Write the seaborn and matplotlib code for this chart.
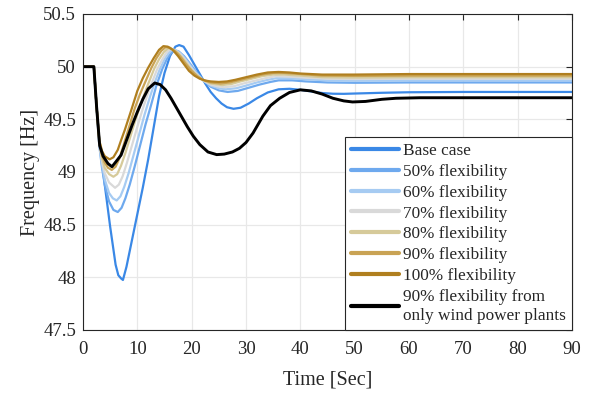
import matplotlib
matplotlib.use("Agg")
import matplotlib.pyplot as plt
import seaborn as sns
import pandas as pd

# Frequency response after the disturbance, one (time, frequency) trace per case
t_base = [0, 2, 2.5, 3, 3.5, 4, 4.5, 5, 5.5, 6, 6.5, 7, 7.35, 8, 9, 10, 11, 12, 13, 14, 15, 16, 17, 17.7,
          18.5, 19.5, 20.5, 21.5, 22.5, 23.5, 24.5, 25.5, 26.5, 27.7, 29, 30.5, 32, 34, 36, 38, 40, 42, 44,
          46, 48, 50, 55, 60, 70, 90]
f_base = [50, 50, 49.62, 49.30, 49.10, 48.88, 48.68, 48.48, 48.30, 48.12, 48.02, 47.99, 47.975, 48.10,
          48.35, 48.60, 48.85, 49.12, 49.42, 49.72, 49.94, 50.10, 50.19, 50.205, 50.19, 50.11, 50.02, 49.93,
          49.84, 49.76, 49.70, 49.65, 49.615, 49.60, 49.61, 49.65, 49.70, 49.755, 49.785, 49.79, 49.78,
          49.765, 49.75, 49.743, 49.742, 49.745, 49.752, 49.757, 49.76, 49.76]

t_50 = [0, 2, 2.5, 3, 3.5, 4, 4.8, 5.6, 6.4, 7.1, 7.8, 8.6, 9.5, 10.5, 11.5, 12.5, 13.5, 14.6, 15.5, 16.2,
        16.8, 17.6, 18.6, 19.6, 20.6, 21.5, 22.1, 23.5, 25, 26.6, 28.5, 30.5, 32.5, 34.5, 36, 38.5, 41, 45,
        50, 60, 90]
f_50 = [50, 50, 49.62, 49.25, 49.04, 48.88, 48.72, 48.64, 48.62, 48.66, 48.75, 48.88, 49.05, 49.25, 49.45,
        49.63, 49.82, 49.98, 50.08, 50.13, 50.15, 50.145, 50.10, 50.035, 49.965, 49.91, 49.875, 49.81,
        49.775, 49.76, 49.77, 49.80, 49.83, 49.855, 49.87, 49.87, 49.86, 49.85, 49.847, 49.85, 49.85]

t_60 = [0, 2, 2.5, 3, 3.5, 4, 4.8, 5.5, 6.2, 6.9, 7.6, 8.4, 9.3, 10.3, 11.3, 12.3, 13.2, 14.1, 15, 15.8,
        16.4, 17.2, 18.2, 19.2, 20.2, 21.2, 22.1, 23.5, 25, 26.3, 28.2, 30, 32, 34, 35.5, 38, 41, 45, 50,
        60, 90]
f_60 = [50, 50, 49.62, 49.26, 49.07, 48.93, 48.80, 48.75, 48.73, 48.77, 48.86, 48.99, 49.16, 49.35, 49.54,
        49.71, 49.85, 49.97, 50.07, 50.13, 50.16, 50.155, 50.115, 50.05, 49.98, 49.92, 49.87, 49.82,
        49.795, 49.785, 49.795, 49.82, 49.85, 49.875, 49.89, 49.89, 49.88, 49.87, 49.867, 49.87, 49.87]

t_70 = [0, 2, 2.5, 3, 3.5, 4, 4.8, 5.9, 6.6, 7.3, 8.1, 9, 10, 11, 12.1, 13.6, 14.5, 15.3, 16, 16.8, 17.8,
        18.8, 19.8, 20.8, 22.1, 23.5, 24.8, 26, 27.8, 29.5, 31.5, 33.5, 35.5, 38, 41, 45, 50, 60, 90]
f_70 = [50, 50, 49.62, 49.27, 49.10, 48.99, 48.90, 48.85, 48.88, 48.96, 49.09, 49.25, 49.43, 49.60, 49.77,
        49.97, 50.06, 50.13, 50.165, 50.16, 50.125, 50.065, 49.995, 49.935, 49.87, 49.83, 49.812, 49.805,
        49.815, 49.84, 49.865, 49.89, 49.91, 49.905, 49.895, 49.885, 49.882, 49.885, 49.885]

t_80 = [0, 2, 2.5, 3, 3.5, 4, 4.8, 5.6, 6.3, 7, 7.8, 8.8, 9.8, 10.8, 11.8, 13.1, 14, 14.9, 15.7, 16.5, 17.5,
        18.5, 19.5, 20.5, 21.3, 22.1, 23.5, 25.6, 27.3, 29, 31, 33, 35, 37, 40, 44, 50, 60, 90]
f_80 = [50, 50, 49.62, 49.28, 49.13, 49.04, 48.98, 48.955, 48.98, 49.06, 49.18, 49.35, 49.52, 49.67, 49.81,
        49.98, 50.07, 50.14, 50.175, 50.165, 50.13, 50.07, 50.00, 49.94, 49.905, 49.872, 49.84, 49.825,
        49.835, 49.86, 49.885, 49.91, 49.925, 49.925, 49.915, 49.90, 49.897, 49.90, 49.90]

t_90 = [0, 2, 2.5, 3, 3.5, 4, 4.6, 5.3, 6, 6.7, 7.5, 8.5, 9.5, 10.5, 11.5, 12.6, 13.5, 14.4, 15.2, 16, 17,
        18, 19, 20, 21, 22.1, 23.5, 25.3, 27, 29, 31, 33, 35, 37, 40, 44, 50, 60, 90]
f_90 = [50, 50, 49.62, 49.30, 49.16, 49.09, 49.04, 49.02, 49.05, 49.13, 49.26, 49.43, 49.60, 49.74, 49.86,
        49.99, 50.08, 50.15, 50.185, 50.18, 50.145, 50.09, 50.02, 49.96, 49.91, 49.875, 49.85, 49.84,
        49.85, 49.875, 49.90, 49.925, 49.94, 49.94, 49.93, 49.915, 49.912, 49.915, 49.915]

t_100 = [0, 2, 2.5, 3, 3.5, 4, 4.9, 5.6, 6.4, 7, 7.7, 8.9, 10, 11, 12, 13, 14, 14.8, 15.6, 16.5, 17.5, 18.5,
         19.5, 20.5, 21.5, 22.5, 23.5, 25, 26.5, 28, 30, 32, 34, 36, 38, 40, 44, 50, 60, 90]
f_100 = [50, 50, 49.62, 49.30, 49.20, 49.15, 49.12, 49.14, 49.21, 49.30, 49.40, 49.59, 49.77, 49.89, 49.99,
         50.08, 50.16, 50.195, 50.19, 50.16, 50.10, 50.03, 49.96, 49.915, 49.885, 49.868, 49.86, 49.855,
         49.86, 49.875, 49.90, 49.925, 49.945, 49.95, 49.945, 49.935, 49.925, 49.925, 49.93, 49.93]

t_wind = [0, 2, 2.5, 3.07, 3.7, 4.6, 5.33, 6.1, 7, 8, 9, 10, 11, 12, 13.2, 14.2, 15.2, 16.2, 17.2, 18.2,
          19.2, 20.3, 21.5, 23, 24.6, 26, 27.5, 28.8, 30, 31.3, 32.2, 33.1, 34.5, 36.2, 38, 40, 42, 44, 46,
          48, 49.6, 52, 55, 57.6, 62, 90]
f_wind = [50, 50, 49.62, 49.25, 49.15, 49.08, 49.05, 49.10, 49.16, 49.30, 49.44, 49.57, 49.69, 49.79,
          49.845, 49.83, 49.78, 49.70, 49.61, 49.52, 49.43, 49.34, 49.26, 49.19, 49.165, 49.17, 49.19,
          49.225, 49.28, 49.37, 49.45, 49.53, 49.63, 49.70, 49.755, 49.78, 49.77, 49.74, 49.70, 49.675,
          49.665, 49.67, 49.69, 49.70, 49.705, 49.705]

labels = ["Base case", "50% flexibility", "60% flexibility", "70% flexibility", "80% flexibility",
          "90% flexibility", "100% flexibility", "90% flexibility from\nonly wind power plants"]
colors = ["#3A88E6", "#6EA9EE", "#A6CBF2", "#D9D9D9", "#D6CA9A", "#C9A354", "#B07F1F", "#000000"]
widths = [1.6, 1.6, 1.6, 1.6, 1.6, 1.6, 1.6, 2.1]
x_ticks = [0, 10, 20, 30, 40, 50, 60, 70, 80, 90]
y_ticks = [47.5, 48, 48.5, 49, 49.5, 50, 50.5]
y_tick_labels = ["47.5", "48", "48.5", "49", "49.5", "50", "50.5"]

traces = [(t_base, f_base), (t_50, f_50), (t_60, f_60), (t_70, f_70), (t_80, f_80),
          (t_90, f_90), (t_100, f_100), (t_wind, f_wind)]
frames = []
for lab, (tt, ff) in zip(labels, traces):
    frames.append(pd.DataFrame({"Time": tt, "Frequency": ff, "Case": lab}))
df = pd.concat(frames, ignore_index=True)

sns.set_theme(style="white")
plt.rcParams["font.family"] = ["Liberation Serif", "DejaVu Serif"]

fig = plt.figure(figsize=(5.95, 3.93), dpi=100)
ax = fig.add_axes([83 / 595, 63 / 393, 489 / 595, 316 / 393])

for lab, col, lw in zip(labels, colors, widths):
    sns.lineplot(data=df[df["Case"] == lab], x="Time", y="Frequency", color=col, lw=lw,
                 estimator=None, sort=True, ax=ax, label=lab, legend=False)

ax.set_xlim(0, 90)
ax.set_ylim(47.5, 50.5)
ax.set_xticks(x_ticks)
ax.set_yticks(y_ticks)
ax.set_yticklabels(y_tick_labels)
ax.grid(True, color="#E8E8E8", lw=0.9)
ax.set_axisbelow(True)
for s in ax.spines.values():
    s.set_color("#262626")
    s.set_linewidth(0.8)
ax.tick_params(direction="in", length=4, width=0.8, top=True, right=True,
               labelsize=13.5, colors="#262626")
ax.tick_params(axis="x", pad=8)
ax.tick_params(axis="y", pad=5)
ax.set_xlabel("Time [Sec]", fontsize=14.5, color="#262626", labelpad=9)
ax.set_ylabel("Frequency [Hz]", fontsize=14.5, color="#262626", labelpad=2)

handles = ax.get_lines()[:len(labels)]
leg = ax.legend(handles, labels, loc="lower right", bbox_to_anchor=(1, 0), borderaxespad=0,
                fontsize=12.4, frameon=True, fancybox=False, framealpha=1, edgecolor="#262626",
                handlelength=2.8, handletextpad=0.25, labelspacing=0.28, borderpad=0.35)
leg.get_frame().set_linewidth(0.8)
leg.get_texts()[-1].set_linespacing(1.25)
for h in leg.get_lines():
    h.set_linewidth(3)

fig.savefig("out.png", dpi=100)
